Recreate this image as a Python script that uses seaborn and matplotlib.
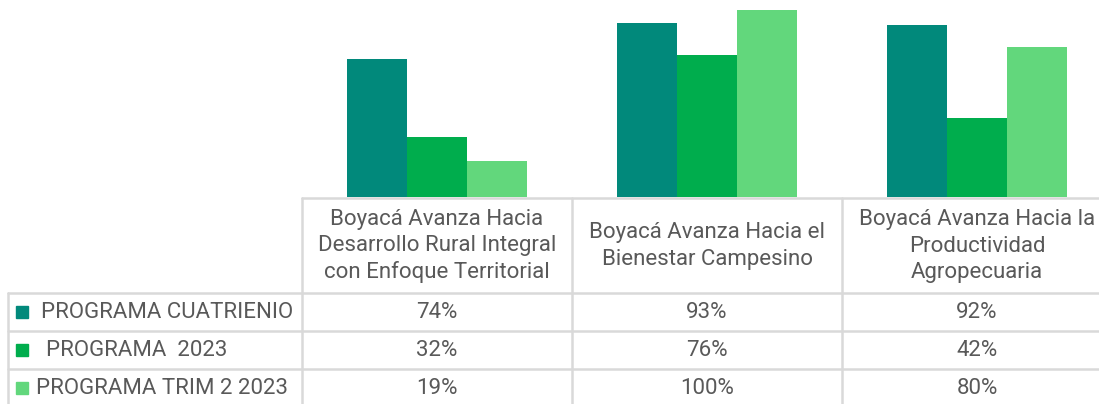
import matplotlib
matplotlib.use("Agg")
import matplotlib.pyplot as plt
import seaborn as sns
import pandas as pd
from matplotlib.lines import Line2D
from matplotlib.patches import Rectangle

categories = [
    "Boyacá Avanza Hacia\nDesarrollo Rural Integral\ncon Enfoque Territorial",
    "Boyacá Avanza Hacia el\nBienestar Campesino",
    "Boyacá Avanza Hacia la\nProductividad\nAgropecuaria",
]
series = ["PROGRAMA CUATRIENIO", " PROGRAMA  2023", "PROGRAMA TRIM 2 2023"]
cuatrienio = [74, 93, 92]
prog2023 = [32, 76, 42]
trim2 = [19, 100, 80]
colors = ["#01897B", "#00AD4D", "#62D77C"]

values = [cuatrienio, prog2023, trim2]
df = pd.DataFrame({
    "cat": [c for s in values for c in range(len(categories))],
    "series": [series[i] for i, s in enumerate(values) for _ in s],
    "val": [v for s in values for v in s],
})

sns.set_theme(style="white")
plt.rcParams["font.family"] = ["Roboto", "DejaVu Sans"]

W, H = 1099, 404
fig = plt.figure(figsize=(W / 100, H / 100), dpi=100)

def fx(x):
    return x / W

def fy(y):
    return 1 - y / H

ax_left, ax_right = 302, 1112
ax_top, ax_base = 10, 197
ax = fig.add_axes([fx(ax_left), fy(ax_base), (ax_right - ax_left) / W, (ax_base - ax_top) / H])
sns.barplot(data=df, x="cat", y="val", hue="series", hue_order=series,
            palette=colors, saturation=1, width=0.667, ax=ax, legend=False,
            edgecolor="none", linewidth=0)
ax.set_xlim(-0.5, 2.5)
ax.set_ylim(0, 100)
ax.axis("off")

grid = "#D9D9D9"
txt = "#595959"
fs = 16

def hline(y, x0, x1):
    fig.add_artist(Line2D([fx(x0), fx(x1)], [fy(y), fy(y)], color=grid, lw=1.8,
                          transform=fig.transFigure))

def vline(x, y0, y1):
    fig.add_artist(Line2D([fx(x), fx(x)], [fy(y0), fy(y1)], color=grid, lw=1.8,
                          transform=fig.transFigure))

col_edges = [302, 572, 842, 1112]
row_edges = [293, 331, 369, 407]
header_top = 198

hline(header_top, 302, 1112)
for y in row_edges:
    hline(y, 8, 1112)
for x in col_edges:
    vline(x, header_top, 407)
vline(8, row_edges[0], 407)

for i, c in enumerate(categories):
    cx = (col_edges[i] + col_edges[i + 1]) / 2
    fig.text(fx(cx), fy((header_top + row_edges[0]) / 2 + 0.5), c, ha="center", va="center",
             fontsize=fs, color=txt, linespacing=1.32)

text_x = [41, 46, 36]
row_cy = [312, 350, 388]
sq = 12
for r, (name, vals) in enumerate(zip(series, values)):
    cy = row_cy[r]
    fig.add_artist(Rectangle((fx(16), fy(cy + sq / 2)), sq / W, sq / H,
                             color=colors[r], transform=fig.transFigure))
    fig.text(fx(text_x[r]), fy(cy), name.strip(), ha="left", va="center",
             fontsize=fs, color=txt)
    for i, v in enumerate(vals):
        cx = (col_edges[i] + col_edges[i + 1]) / 2
        fig.text(fx(cx), fy(cy), f"{v}%", ha="center", va="center",
                 fontsize=fs, color=txt)

fig.savefig("out.png", dpi=100)
